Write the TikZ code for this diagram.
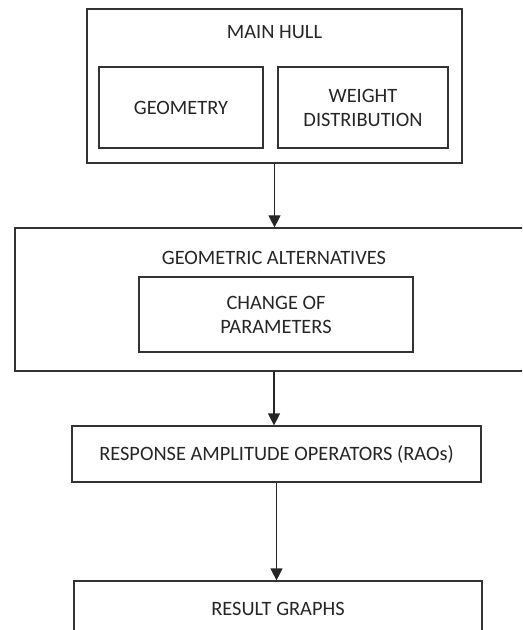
\documentclass[tikz,border=0pt]{standalone}
\usepackage{fontspec}
\setmainfont{Carlito}
\usetikzlibrary{arrows.meta}
\begin{document}
\begin{tikzpicture}[x=0.75pt,y=-0.75pt,
  box/.style={draw=black!80,line width=0.9pt,inner sep=0pt,align=center,font=\fontsize{15.3}{18}\selectfont,text=black!85},
  lbl/.style={inner sep=0pt,align=center,font=\fontsize{15.3}{18}\selectfont,text=black!85},
  arr/.style={draw=black!85,line width=0.9pt,-{Triangle[width=9pt,length=9pt]}}]
\useasboundingbox (0,0) rectangle (522,630);
\clip (0,0) rectangle (522,630);
\node[box,minimum width=281.25pt,minimum height=115.5pt] (hull) at (274.5,86) {};
\node[lbl] (hullt) at (274.5,32) {MAIN HULL};
\node[box,minimum width=123pt,minimum height=60.75pt] (geom) at (181,107.5) {GEOMETRY};
\node[box,minimum width=127.5pt,minimum height=60.75pt] (wd) at (363,107.5) {WEIGHT\\DISTRIBUTION};
\node[box,minimum width=388.5pt,minimum height=107.25pt] (alt) at (274,299.5) {};
\node[lbl] (altt) at (274,258) {GEOMETRIC ALTERNATIVES};
\node[box,minimum width=205.5pt,minimum height=56.25pt] (chg) at (276,314.5) {CHANGE OF\\PARAMETERS};
\node[box,minimum width=306.75pt,minimum height=42pt] (rao) at (276.5,454) {RESPONSE AMPLITUDE OPERATORS (RAOs)};
\node[box,minimum width=306pt,minimum height=41.25pt] (res) at (278,608.5) {RESULT GRAPHS};
\draw[arr] (hull.south) -- (hull.south |- alt.north);
\draw[arr] (alt.south) -- (alt.south |- rao.north);
\draw[arr] (rao.south) -- (rao.south |- res.north);
\end{tikzpicture}
\end{document}
